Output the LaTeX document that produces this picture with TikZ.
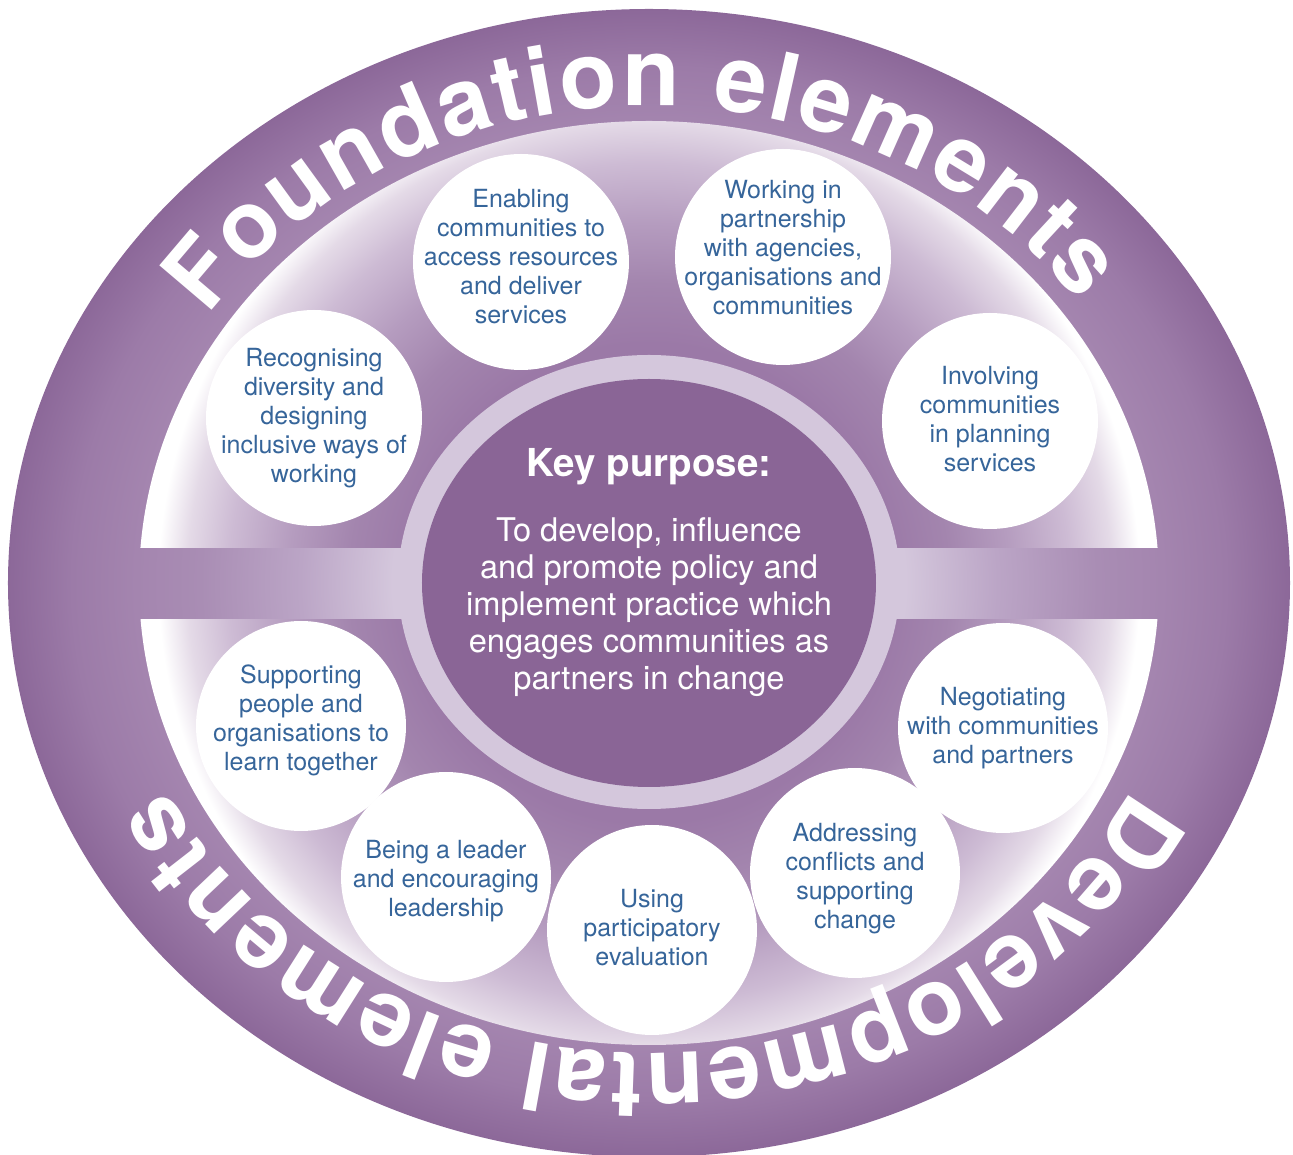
\documentclass[tikz,border=0pt]{standalone}
\usepackage{fontspec}
\setmainfont{TeX Gyre Heros}
\usetikzlibrary{decorations.text,shapes.geometric}

\definecolor{rimdark}{HTML}{8C6899}
\definecolor{rimmid}{HTML}{9C7BA8}
\definecolor{riminner}{HTML}{A485AF}
\definecolor{rimlight}{HTML}{A98DB4}
\definecolor{bandmid}{HTML}{BBA5C6}
\definecolor{halo}{HTML}{D4C7DC}
\definecolor{keyfill}{HTML}{8A6596}
\definecolor{glowdeep}{HTML}{9B79A7}
\definecolor{glowmid}{HTML}{A385AE}
\definecolor{glowsoft}{HTML}{B59CBF}
\definecolor{glowpale}{HTML}{CDBBD4}
\definecolor{glowedge}{HTML}{E4DAE7}
\definecolor{elemblue}{HTML}{36659A}

% rim: pale near the middle, darker towards the outer edge
\pgfdeclareradialshading{rimshade}{\pgfpointorigin}{%
  color(0bp)=(halo); color(10bp)=(halo); color(13.6bp)=(bandmid);
  color(17.5bp)=(rimlight); color(20bp)=(riminner); color(22.5bp)=(rimmid);
  color(25bp)=(rimdark); color(50bp)=(rimdark)}
% fields: purple round the key, white at the rim
\pgfdeclareradialshading{glowshade}{\pgfpointorigin}{%
  color(0bp)=(glowdeep); color(11.5bp)=(glowdeep); color(14.4bp)=(glowmid);
  color(17.3bp)=(glowsoft); color(20.2bp)=(glowpale); color(22.2bp)=(glowedge);
  color(23.6bp)=(white); color(50bp)=(white)}

\begin{document}
\begin{tikzpicture}[x=1pt,y=1pt,
  bubble/.style={circle,fill=white,inner sep=0pt,minimum size=#1},
  bubble/.default=216pt,
  elemtext/.style={align=center,text=elemblue,inner sep=0pt,
    font=\fontsize{25}{29}\selectfont},
  keyhead/.style={text=white,inner sep=0pt,font=\bfseries\fontsize{38.5}{42}\selectfont},
  keybody/.style={align=center,text=white,inner sep=0pt,font=\fontsize{32.6}{37}\selectfont},
  title/.style={decorate,decoration={text along path,text align=fit to path,
    text={|\color{white}\bfseries\fontsize{94}{94}\selectfont|#1}}}]
  \useasboundingbox (-649,-572) rectangle (644,583);

  % outer rim and the band across the middle
  \shade[shading=rimshade] (0,0) ellipse (641pt and 574pt);

  % upper and lower fields
  \begin{scope}
    \clip (0,0) ellipse (510pt and 462pt);
    \clip (-600,35) rectangle (600,600);
    \shade[shading=glowshade] (0,0) circle (520pt);
  \end{scope}
  \begin{scope}
    \clip (0,0) ellipse (510pt and 462pt);
    \clip (-600,-37) rectangle (600,-600);
    \shade[shading=glowshade] (0,0) circle (520pt);
  \end{scope}

  % key purpose
  \fill[halo] (0,1) ellipse (251pt and 227pt);
  \node[ellipse,fill=keyfill,inner sep=0pt,minimum width=454pt,minimum height=408pt] (key) at (0,0) {};
  \node[keyhead] (keytitle) at (0,116) {Key purpose:};
  \node[keybody] (keytext) at (0,-24) {To develop, influence\\and promote policy and\\implement practice which\\engages communities as\\partners in change};

  % foundation elements
  \node[bubble] (recog) at (-335,165) {};
  \node[elemtext] (recog-t) at (recog) {Recognising\\diversity and\\designing\\inclusive ways of\\working};
  \node[bubble] (enable) at (-128,321) {};
  \node[elemtext] (enable-t) at ([yshift=5pt]enable) {Enabling\\communities to\\access resources\\and deliver\\services};
  \node[bubble] (partner) at (134,326) {};
  \node[elemtext] (partner-t) at ([yshift=9pt]partner) {Working in\\partnership\\with agencies,\\organisations and\\communities};
  \node[bubble] (involve) at (341,162) {};
  \node[elemtext] (involve-t) at ([yshift=2pt]involve) {Involving\\communities\\in planning\\services};

  % developmental elements
  \node[bubble=210pt] (support) at (-348,-143) {};
  \node[elemtext] (support-t) at ([yshift=6pt]support) {Supporting\\people and\\organisations to\\learn together};
  \node[bubble=210pt] (leader) at (-203,-294) {};
  \node[elemtext] (leader-t) at ([yshift=-4pt]leader) {Being a leader\\and encouraging\\leadership};
  \node[bubble=210pt] (evaluate) at (3,-347) {};
  \node[elemtext] (evaluate-t) at ([yshift=2pt]evaluate) {Using\\participatory\\evaluation};
  \node[bubble=210pt] (conflict) at (206,-290) {};
  \node[elemtext] (conflict-t) at ([yshift=-6pt]conflict) {Addressing\\conflicts and\\supporting\\change};
  \node[bubble=210pt] (negotiate) at (354,-145) {};
  \node[elemtext] (negotiate-t) at (negotiate) {Negotiating\\with communities\\and partners};

  % headings round the rim
  \path[title=Foundation elements] (146:532pt and 477pt)
    arc[start angle=146,end angle=36,x radius=532pt,y radius=477pt];
  \path[title=Developmental elements] (-26:537pt and 470pt)
    arc[start angle=-26,end angle=-154,x radius=537pt,y radius=470pt];
\end{tikzpicture}
\end{document}
